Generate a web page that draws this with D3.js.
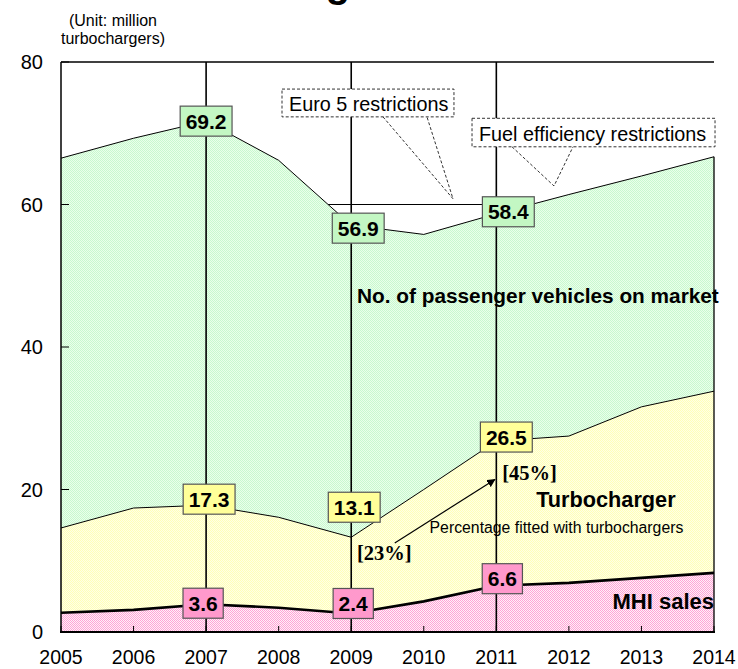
<!DOCTYPE html>
<html><head><meta charset="utf-8">
<script src="https://cdn.jsdelivr.net/npm/d3@7"></script>
<style>body{margin:0;background:#fff}svg{display:block;font-family:"Liberation Sans",Arial,sans-serif}</style>
</head><body><svg id="c" width="738" height="669"></svg>
<script>
// ---- data ----
const years = [2005,2006,2007,2008,2009,2010,2011,2012,2013,2014];
const marketValues = [66.5,69.3,71.7,66.2,57.1,55.8,58.7,61.4,64.0,66.7];
const turboValues  = [14.6,17.4,17.8,16.1,13.3,20.0,26.8,27.5,31.6,33.8];
const mhiValues    = [2.7,3.1,3.9,3.4,2.6,4.3,6.5,6.9,7.6,8.3];
const yTicks = [0,20,40,60,80];
const markerYears = [2007,2009,2011];
const marketLabels = ["69.2","56.9","58.4"];
const turboLabels  = ["17.3","13.1","26.5"];
const mhiLabels    = ["3.6","2.4","6.6"];
const shareLabels  = ["[23%]","[45%]"];
const titleText = "Turbocharger Market";

// ---- layout ----
const svg = d3.select("#c");
const x = d3.scaleLinear().domain([2005,2014]).range([61,714]);
const y = d3.scaleLinear().domain([0,80]).range([632,62]);

const defs = svg.append("defs");
function pat(id, base, dot){
  const p = defs.append("pattern").attr("id",id).attr("width",2).attr("height",2).attr("patternUnits","userSpaceOnUse");
  p.append("rect").attr("width",2).attr("height",2).attr("fill",base);
  p.append("rect").attr("width",1).attr("height",1).attr("fill",dot);
  p.append("rect").attr("x",1).attr("y",1).attr("width",1).attr("height",1).attr("fill",dot);
}
pat("pg","#eaffea","#c8f8cf");
pat("py","#ffffe6","#ffffb8");
pat("pp","#fff0f8","#ffa4d6");
defs.append("marker").attr("id","arr").attr("viewBox","0 0 10 10").attr("refX",9).attr("refY",5)
  .attr("markerWidth",7).attr("markerHeight",7).attr("orient","auto")
  .append("path").attr("d","M0,0L10,5L0,10z").attr("fill","#000");

// title (clipped by the top edge as in the reference)
const tmp = svg.append("text").attr("font-size",40).attr("font-weight","bold").text("Turbochar");
const wPre = tmp.node().getComputedTextLength(); tmp.remove();
const tmp2 = svg.append("text").attr("font-size",40).attr("font-weight","bold").text("g");
const wG = tmp2.node().getComputedTextLength(); tmp2.remove();
svg.append("text").attr("x", 338 - wPre - wG/2).attr("y",-3).attr("font-size",40).attr("font-weight","bold").text(titleText);

const series = [
  {vals: marketValues, fill:"url(#pg)", sw:1},
  {vals: turboValues, fill:"url(#py)", sw:1},
  {vals: mhiValues, fill:"url(#pp)", sw:2.6}
];
series.forEach(s=>{
  const data = years.map((yr,i)=>({yr, v:s.vals[i]}));
  svg.append("path").datum(data).attr("fill",s.fill)
    .attr("d", d3.area().x(d=>x(d.yr)).y0(y(0)).y1(d=>y(d.v)));
});
series.forEach(s=>{
  const data = years.map((yr,i)=>({yr, v:s.vals[i]}));
  svg.append("path").datum(data).attr("fill","none").attr("stroke","#000").attr("stroke-width",s.sw)
    .attr("d", d3.line().x(d=>x(d.yr)).y(d=>y(d.v)));
});
// right edge of market area
svg.append("line").attr("x1",x(2014)).attr("x2",x(2014)).attr("y1",y(marketValues[9])).attr("y2",y(0)).attr("stroke","#000").attr("stroke-width",1.3);

// horizontal reference line at 60 (from where market crosses 60 to 2011)
{
  const i = 3; const t = (marketValues[i]-60)/(marketValues[i]-marketValues[i+1]);
  const xs = years[i] + t;
  svg.append("line").attr("x1",x(xs)).attr("x2",x(2011)).attr("y1",y(60)).attr("y2",y(60)).attr("stroke","#000").attr("stroke-width",1);
}

// vertical marker lines
svg.selectAll(".vl").data(markerYears).enter().append("line")
  .attr("x1",d=>x(d)).attr("x2",d=>x(d)).attr("y1",y(80)).attr("y2",y(0))
  .attr("stroke","#000").attr("stroke-width",1.6);

// axes frame
svg.append("line").attr("x1",x(2005)).attr("x2",x(2014)).attr("y1",y(80)).attr("y2",y(80)).attr("stroke","#000").attr("stroke-width",1.3);
svg.append("line").attr("x1",x(2005)).attr("x2",x(2005)).attr("y1",y(80)).attr("y2",y(0)).attr("stroke","#000").attr("stroke-width",1.5);
svg.append("line").attr("x1",x(2005)-1).attr("x2",x(2014)+1).attr("y1",y(0)).attr("y2",y(0)).attr("stroke","#000").attr("stroke-width",2.2);

// y ticks & labels
svg.selectAll(".yt").data(yTicks).enter().append("line")
  .attr("x1",x(2005)).attr("x2",x(2005)+8).attr("y1",d=>y(d)).attr("y2",d=>y(d)).attr("stroke","#000").attr("stroke-width",1);
svg.selectAll(".yl").data(yTicks).enter().append("text")
  .attr("x",43).attr("y",d=>y(d)).attr("dy","0.36em").attr("text-anchor","end").attr("font-size",20).text(d=>d);
// x ticks & labels
svg.selectAll(".xt").data(years).enter().append("line")
  .attr("x1",d=>x(d)).attr("x2",d=>x(d)).attr("y1",y(0)).attr("y2",y(0)-6).attr("stroke","#000").attr("stroke-width",1);
svg.selectAll(".xl").data(years).enter().append("text")
  .attr("x",d=>x(d)).attr("y",664).attr("text-anchor","middle").attr("font-size",19.5).text(d=>d);

// unit label
svg.append("text").attr("x",113).attr("y",26).attr("text-anchor","middle").attr("font-size",16).text("(Unit: million");
svg.append("text").attr("x",113).attr("y",44).attr("text-anchor","middle").attr("font-size",16).text("turbochargers)");

// value boxes
const boxSpecs = [
  {vals:marketValues, labels:marketLabels, fill:"#c3f7c3", off:[[0,0],[7,3],[12,-2]]},
  {vals:turboValues,  labels:turboLabels,  fill:"#ffff99", off:[[3,-6],[3,-30],[10,-4]]},
  {vals:mhiValues,    labels:mhiLabels,    fill:"#ff99cc", off:[[-3,-1],[2,-10],[6,-7]]}
];
boxSpecs.forEach(b=>{
  markerYears.forEach((yr,k)=>{
    const i = years.indexOf(yr);
    const cx = x(yr)+b.off[k][0], cy = y(b.vals[i])+b.off[k][1];
    const g = svg.append("g");
    const t = g.append("text").attr("x",cx).attr("y",cy).attr("dy","0.36em").attr("text-anchor","middle")
      .attr("font-size",21).attr("font-weight","bold").text(b.labels[k]);
    const w = t.node().getComputedTextLength()+11;
    g.insert("rect","text").attr("x",cx-w/2).attr("y",cy-15).attr("width",w).attr("height",30)
      .attr("fill",b.fill).attr("stroke","#555").attr("stroke-width",1.2);
  });
});

// annotations
svg.append("text").attr("x",x(2009.08)).attr("y",y(46.2)).attr("font-size",20.8).attr("font-weight","bold").text("No. of passenger vehicles on market");
svg.append("text").attr("x",x(2011.55)).attr("y",y(17.5)).attr("font-size",21.7).attr("font-weight","bold").text("Turbocharger");
svg.append("text").attr("x",x(2010.08)).attr("y",y(13.9)).attr("font-size",15.8).text("Percentage fitted with turbochargers");
svg.append("text").attr("x",x(2014)).attr("y",y(3.2)).attr("text-anchor","end").attr("font-size",22).attr("font-weight","bold").text("MHI sales");
svg.append("text").attr("x",x(2009.08)).attr("y",y(10.1)).attr("font-family","'Liberation Serif',serif").attr("font-size",20.5).attr("font-weight","bold").text(shareLabels[0]);
svg.append("text").attr("x",x(2011.08)).attr("y",y(21.4)).attr("font-family","'Liberation Serif',serif").attr("font-size",20.5).attr("font-weight","bold").text(shareLabels[1]);
svg.append("line").attr("x1",x(2009.6)).attr("y1",y(12.5)).attr("x2",x(2010.98)).attr("y2",y(21.4))
  .attr("stroke","#000").attr("stroke-width",1.2).attr("marker-end","url(#arr)");

// callouts
function callout(x0,x1,v0,v1,text,bx0,bx1,tipX,tipV,fs){
  const g = svg.append("g").attr("fill","none").attr("stroke","#333").attr("stroke-width",1).attr("stroke-dasharray","3,2");
  g.append("rect").attr("x",x(x0)).attr("y",y(v0)).attr("width",x(x1)-x(x0)).attr("height",y(v1)-y(v0)).attr("fill","#fff");
  g.append("path").attr("d",`M${x(bx0)},${y(v1)}L${x(tipX)},${y(tipV)}L${x(bx1)},${y(v1)}`);
  svg.append("text").attr("x",x(x0)+7).attr("y",y(v1)-6).attr("font-size",fs).text(text);
}
callout(2008.046,2010.416,76.2,72.3,"Euro 5 restrictions",2009.438,2010.044,2010.403,60.8,19.8);
callout(2010.665,2014.014,72.1,68.1,"Fuel efficiency restrictions",2011.216,2012.057,2011.795,62.6,19.8);
</script></body></html>
